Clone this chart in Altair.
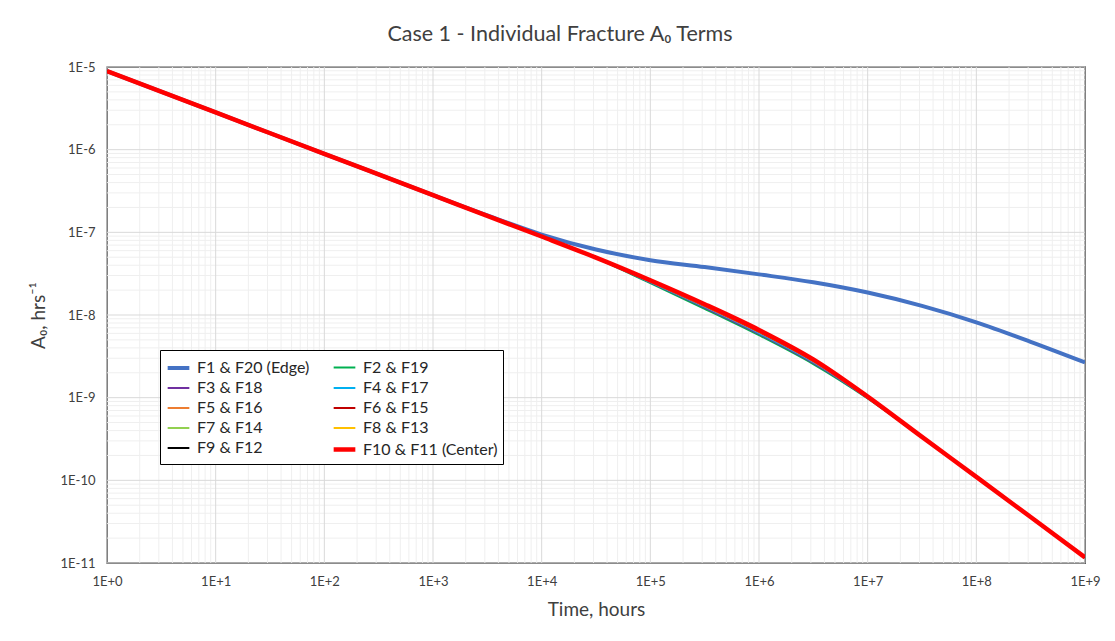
import altair as alt
import pandas as pd

# ---------------- data ----------------
time_hours = [1, 10, 100, 1e3, 3.16e3, 1e4, 3.16e4, 1e5, 3.16e5, 1e6, 3.16e6, 1e7, 3.16e7, 1e8, 3.16e8, 1e9]

f1_f20 = [8.9e-6, 2.82e-6, 8.9e-7, 2.82e-7, 1.6e-7, 9.4e-8, 6.2e-8, 4.6e-8, 3.8e-8, 3.1e-8, 2.49e-8, 1.87e-8, 1.29e-8, 8.15e-9, 4.74e-9, 2.67e-9]
f2_f19 = [8.9e-6, 2.82e-6, 8.9e-7, 2.82e-7, 1.58e-7, 8.9e-8, 4.88e-8, 2.43e-8, 1.19e-8, 5.7e-9, 2.55e-9, 9.8e-10, 3.3e-10, 1.1e-10, 3.6e-11, 1.17e-11]
f3_f18 = [8.9e-6, 2.82e-6, 8.9e-7, 2.82e-7, 1.58e-7, 8.9e-8, 4.9e-8, 2.48e-8, 1.23e-8, 5.9e-9, 2.63e-9, 9.9e-10, 3.32e-10, 1.1e-10, 3.6e-11, 1.17e-11]
f4_f17 = [8.9e-6, 2.82e-6, 8.9e-7, 2.82e-7, 1.58e-7, 8.9e-8, 4.91e-8, 2.51e-8, 1.26e-8, 6.05e-9, 2.7e-9, 1.0e-9, 3.33e-10, 1.1e-10, 3.6e-11, 1.17e-11]
f5_f16 = [8.9e-6, 2.82e-6, 8.9e-7, 2.82e-7, 1.58e-7, 8.9e-8, 4.92e-8, 2.54e-8, 1.28e-8, 6.2e-9, 2.75e-9, 1.01e-9, 3.34e-10, 1.1e-10, 3.6e-11, 1.17e-11]
f6_f15 = [8.9e-6, 2.82e-6, 8.9e-7, 2.82e-7, 1.58e-7, 8.9e-8, 4.93e-8, 2.56e-8, 1.3e-8, 6.3e-9, 2.8e-9, 1.02e-9, 3.35e-10, 1.1e-10, 3.6e-11, 1.17e-11]
f7_f14 = [8.9e-6, 2.82e-6, 8.9e-7, 2.82e-7, 1.58e-7, 8.9e-8, 4.94e-8, 2.58e-8, 1.31e-8, 6.4e-9, 2.84e-9, 1.02e-9, 3.35e-10, 1.1e-10, 3.6e-11, 1.17e-11]
f8_f13 = [8.9e-6, 2.82e-6, 8.9e-7, 2.82e-7, 1.58e-7, 8.9e-8, 4.95e-8, 2.6e-8, 1.32e-8, 6.5e-9, 2.87e-9, 1.03e-9, 3.35e-10, 1.1e-10, 3.6e-11, 1.17e-11]
f9_f12 = [8.9e-6, 2.82e-6, 8.9e-7, 2.82e-7, 1.58e-7, 8.9e-8, 4.95e-8, 2.61e-8, 1.34e-8, 6.55e-9, 2.89e-9, 1.03e-9, 3.35e-10, 1.1e-10, 3.6e-11, 1.17e-11]
f10_f11 = [8.9e-6, 2.82e-6, 8.9e-7, 2.82e-7, 1.58e-7, 8.9e-8, 4.95e-8, 2.63e-8, 1.35e-8, 6.6e-9, 2.9e-9, 1.03e-9, 3.35e-10, 1.1e-10, 3.6e-11, 1.17e-11]

series_names = ["F1 & F20 (Edge)", "F2 & F19", "F3 & F18", "F4 & F17", "F5 & F16",
                "F6 & F15", "F7 & F14", "F8 & F13", "F9 & F12", "F10 & F11 (Center)"]
series_values = [f1_f20, f2_f19, f3_f18, f4_f17, f5_f16, f6_f15, f7_f14, f8_f13, f9_f12, f10_f11]
series_colors = ["#4472C4", "#00B050", "#7030A0", "#00B0F0", "#ED7D31",
                 "#C00000", "#92D050", "#FFC000", "#000000", "#FF0000"]
series_widths = [4, 2, 2, 2, 2, 2, 2, 2, 2, 4.5]

x_ticks = [1, 10, 100, 1e3, 1e4, 1e5, 1e6, 1e7, 1e8, 1e9]
y_ticks = [1e-11, 1e-10, 1e-9, 1e-8, 1e-7, 1e-6, 1e-5]
x_minor = [m * 10 ** k for k in range(9) for m in range(2, 10)]
y_minor = [m * 10.0 ** k for k in range(-11, -5) for m in range(2, 10)]

rows = []
for name, vals in zip(series_names, series_values):
    for t, a in zip(time_hours, vals):
        rows.append({"series": name, "t": t, "a": a})
df = pd.DataFrame(rows)

FONT = "Lato"
TXT = "#404040"

xscale = alt.Scale(type="log", domain=[1, 1e9], nice=False)
yscale = alt.Scale(type="log", domain=[1e-11, 1e-5], nice=False)

x_axis = alt.Axis(values=x_ticks, labelExpr="'1E+' + round(log(datum.value)/LN10)",
                  grid=False, ticks=False, domain=False, labelPadding=12,
                  title="Time, hours", titlePadding=12, labelFlush=False)
y_axis = alt.Axis(values=y_ticks, labelExpr="'1E' + round(log(datum.value)/LN10)",
                  grid=False, ticks=False, domain=False, labelPadding=12,
                  title="A₀, hrs⁻¹", titlePadding=12)

minor_x = alt.Chart(pd.DataFrame({"v": x_minor})).mark_rule(color="#EFEFEF", strokeWidth=1).encode(
    x=alt.X("v:Q", scale=xscale, axis=x_axis))
minor_y = alt.Chart(pd.DataFrame({"v": y_minor})).mark_rule(color="#EFEFEF", strokeWidth=1).encode(
    y=alt.Y("v:Q", scale=yscale, axis=y_axis))
major_x = alt.Chart(pd.DataFrame({"v": x_ticks})).mark_rule(color="#D9D9D9", strokeWidth=1).encode(
    x=alt.X("v:Q", scale=xscale, axis=x_axis))
major_y = alt.Chart(pd.DataFrame({"v": y_ticks})).mark_rule(color="#D9D9D9", strokeWidth=1).encode(
    y=alt.Y("v:Q", scale=yscale, axis=y_axis))

legend = alt.Legend(title=None, orient="none", legendX=53, legendY=283, columns=2,
                    direction="horizontal",
                    symbolType="stroke", symbolSize=470, columnPadding=14, rowPadding=0,
                    labelFont=FONT, labelFontSize=16, labelColor="#262626", labelLimit=220,
                    strokeColor="black", fillColor="white", padding=5, offset=0,
                    labelOffset=5)

color_enc = alt.Color("series:N", scale=alt.Scale(domain=series_names, range=series_colors), legend=legend)
width_enc = alt.StrokeWidth("series:N", scale=alt.Scale(type="ordinal", domain=series_names, range=series_widths), legend=legend)


def line_layer(names):
    return alt.Chart(df).transform_filter(
        alt.FieldOneOfPredicate(field="series", oneOf=names)
    ).mark_line(interpolate="monotone", clip=True).encode(
        x=alt.X("t:Q", scale=xscale, axis=x_axis),
        y=alt.Y("a:Q", scale=yscale, axis=y_axis),
        color=color_enc,
        strokeWidth=width_enc,
        detail="series:N",
    )


chart = alt.layer(
    minor_x, minor_y, major_x, major_y,
    line_layer([series_names[0]]),
    line_layer(series_names[1:9]),
    line_layer([series_names[9]]),
).properties(
    width=978, height=496,
    autosize=alt.AutoSizeParams(type="none"),
    padding={"left": 99, "top": 59, "right": 22, "bottom": 60},
    title=alt.TitleParams("Case 1 - Individual Fracture A₀ Terms", anchor="middle", frame="group",
                          dx=-36, offset=16, fontSize=21.5, font=FONT, fontWeight="normal", color=TXT),
).configure_view(
    stroke="black", strokeWidth=1.3
).configure_axis(
    labelFont=FONT, labelFontSize=13, labelColor=TXT, titleFont=FONT, titleFontSize=19,
    titleColor=TXT, titleFontWeight="normal"
)

chart.save("out.html", embed_options={"renderer": "svg", "actions": False})
